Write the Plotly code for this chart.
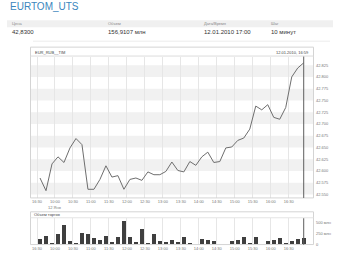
import plotly.graph_objects as go

W, H = 340, 255

# ---- data ----
price = [42.585, 42.558, 42.615, 42.630, 42.618, 42.649, 42.669, 42.656, 42.561, 42.561,
         42.582, 42.611, 42.587, 42.590, 42.561, 42.582, 42.585, 42.580, 42.598, 42.592,
         42.592, 42.599, 42.619, 42.601, 42.598, 42.620, 42.612, 42.630, 42.640, 42.618,
         42.620, 42.649, 42.651, 42.665, 42.670, 42.689, 42.738, 42.730, 42.741, 42.714,
         42.710, 42.735, 42.800, 42.819, 42.830]
volume = [120, 197, 30, 250, 438, 84, 30, 265, 234, 152,
          98, 189, 61, 175, 538, 175, 52, 347, 30, 243,
          84, 57, 98, 61, 175, 30, 0, 120, 114, 84,
          0, 0, 84, 114, 175, 23, 175, 0, 75, 107,
          152, 39, 84, 129, 143]
time_labels = ["16:30", "10:00", "10:30", "11:00", "11:30", "12:00", "12:30", "13:00",
               "13:30", "14:00", "14:30", "15:00", "15:30", "16:00", "16:30"]
price_ticks = [42.550, 42.575, 42.600, 42.625, 42.650, 42.675, 42.700, 42.725,
               42.750, 42.775, 42.800, 42.825]
vol_ticks = [0, 250, 500]
vol_tick_text = ["0", "250 млн", "500 млн"]
header_labels = ["Цена", "Объем", "Дата/Время", "Шаг"]
header_values = ["42,8300", "156,9107 млн", "12.01.2010 17:00", "10 минут"]
header_x = [10, 106, 202, 269]

idx = list(range(len(price)))
tickpos = [3 * k - 0.5 for k in range(len(time_labels))]


def px(x):
    return x / W


def py(y):
    return 1 - y / H


FONT = "Liberation Sans, Arial, sans-serif"

fig = go.Figure()
fig.add_trace(go.Scatter(x=idx, y=price, mode="lines", xaxis="x", yaxis="y",
                         line=dict(color="#6e6e6e", width=1), showlegend=False,
                         hoverinfo="skip"))
fig.add_trace(go.Bar(x=idx, y=volume, xaxis="x2", yaxis="y2", width=0.72,
                     marker=dict(color="#3f3f3f", line=dict(width=0)),
                     showlegend=False, hoverinfo="skip"))

xr = [-1.67, 45.55]
tickfont = dict(family=FONT, size=4, color="#777777")

shapes = []
# alternating bands
for k in range(0, len(price_ticks), 2):
    shapes.append(dict(type="rect", xref="x domain", yref="y", x0=0, x1=1,
                       y0=price_ticks[k], y1=price_ticks[k] + 0.025,
                       fillcolor="#f1f1f1", line=dict(width=0), layer="below"))
# boxes
shapes.append(dict(type="rect", xref="paper", yref="paper", x0=px(30.5), x1=px(313.5),
                   y0=py(199.5), y1=py(47.5), line=dict(color="#d4d4d4", width=1)))
shapes.append(dict(type="line", xref="paper", yref="paper", x0=px(30.5), x1=px(313.5),
                   y0=py(56.5), y1=py(56.5), line=dict(color="#dcdcdc", width=1)))
shapes.append(dict(type="rect", xref="paper", yref="paper", x0=px(30.5), x1=px(313.5),
                   y0=py(246.5), y1=py(213.5), line=dict(color="#d4d4d4", width=1)))
shapes.append(dict(type="line", xref="paper", yref="paper", x0=px(30.5), x1=px(313.5),
                   y0=py(219.5), y1=py(219.5), line=dict(color="#e4e4e4", width=1)))
# current time markers
last = idx[-1]
shapes.append(dict(type="line", xref="x", yref="y domain", x0=last, x1=last, y0=0, y1=1,
                   line=dict(color="#5e5e5e", width=1)))
shapes.append(dict(type="line", xref="x2", yref="y2 domain", x0=last, x1=last, y0=0, y1=1,
                   line=dict(color="#5e5e5e", width=1)))
# header table band and line
shapes.append(dict(type="rect", xref="paper", yref="paper", x0=px(7), x1=px(333),
                   y0=py(27.5), y1=py(20.5), fillcolor="#f0f0f0", line=dict(width=0),
                   layer="below"))
shapes.append(dict(type="line", xref="paper", yref="paper", x0=px(33), x1=px(330),
                   y0=py(41.5), y1=py(41.5), line=dict(color="#ececec", width=1)))

ann = []
ann.append(dict(text="EURTOM_UTS", x=px(8), y=py(7), xref="paper", yref="paper",
                xanchor="left", yanchor="middle", showarrow=False,
                font=dict(family=FONT, size=10, color="#3a86bd")))
for lab, val, hx in zip(header_labels, header_values, header_x):
    ann.append(dict(text=lab, x=px(hx), y=py(24), xref="paper", yref="paper",
                    xanchor="left", yanchor="middle", showarrow=False,
                    font=dict(family=FONT, size=4, color="#888888")))
    ann.append(dict(text=val, x=px(hx), y=py(32.3), xref="paper", yref="paper",
                    xanchor="left", yanchor="middle", showarrow=False,
                    font=dict(family=FONT, size=6, color="#333333")))
ann.append(dict(text="EUR_RUB__TIM", x=px(33), y=py(52.5), xref="paper", yref="paper",
                xanchor="left", yanchor="middle", showarrow=False,
                font=dict(family=FONT, size=4, color="#444444")))
ann.append(dict(text="12.01.2010, 16:59", x=px(311), y=py(52.5), xref="paper", yref="paper",
                xanchor="right", yanchor="middle", showarrow=False,
                font=dict(family=FONT, size=4, color="#444444")))
ann.append(dict(text="12 Янв", x=tickpos[1], y=py(209), xref="x", yref="paper",
                xanchor="center", yanchor="middle", showarrow=False,
                font=dict(family=FONT, size=4, color="#777777")))
ann.append(dict(text="Объем торгов", x=px(32), y=py(216.5), xref="paper", yref="paper",
                xanchor="left", yanchor="middle", showarrow=False,
                font=dict(family=FONT, size=4, color="#444444")))

axis_common = dict(showline=False, zeroline=False, ticks="", fixedrange=True)

fig.update_layout(
    width=W, height=H, margin=dict(l=0, r=0, t=0, b=0),
    paper_bgcolor="white", plot_bgcolor="white",
    bargap=0,
    shapes=shapes, annotations=ann,
    xaxis=dict(domain=[px(30), px(313)], range=xr, anchor="y",
               tickmode="array", tickvals=tickpos, ticktext=time_labels,
               showgrid=True, gridcolor="#e6e6e6", gridwidth=1,
               tickfont=tickfont, ticklabelstandoff=0, **axis_common),
    yaxis=dict(domain=[py(199.5), py(57)], range=[42.5426, 42.8434], anchor="x",
               side="right", tickmode="array", tickvals=price_ticks,
               ticktext=[f"{v:.3f}" for v in price_ticks], showgrid=False,
               tickfont=tickfont, ticklabelstandoff=2, **axis_common),
    xaxis2=dict(domain=[px(30), px(313)], range=xr, anchor="y2",
                tickmode="array", tickvals=tickpos, ticktext=time_labels,
                showgrid=True, gridcolor="#e6e6e6", gridwidth=1,
                tickfont=tickfont, ticklabelstandoff=0, **axis_common),
    yaxis2=dict(domain=[py(246.7), py(220)], range=[0, 607], anchor="x2",
                side="right", tickmode="array", tickvals=vol_ticks,
                ticktext=vol_tick_text, showgrid=False,
                tickfont=tickfont, ticklabelstandoff=2, **axis_common),
)

fig.write_html("out.html")
